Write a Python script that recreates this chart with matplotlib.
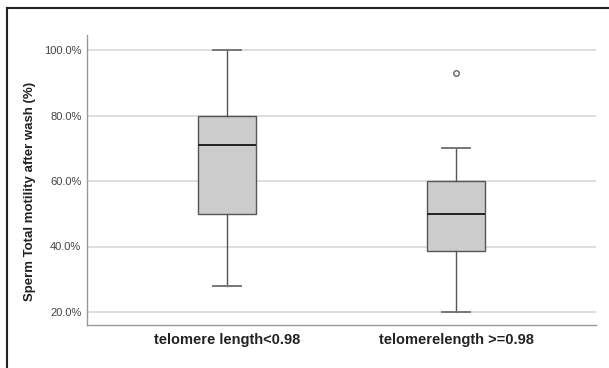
import numpy as np
import matplotlib.pyplot as plt
from matplotlib.lines import Line2D

plt.rcParams['font.family'] = ['Liberation Sans', 'DejaVu Sans']

# group labels and five-number summaries (percent)
groups = ['telomere length<0.98', 'telomerelength >=0.98']
whisker_low = [28.0, 20.0]
q1 = [50.0, 38.6]
median = [71.0, 50.0]
q3 = [80.0, 60.0]
whisker_high = [100.0, 70.0]
outliers = [[], [93.0]]

yticks = [20, 40, 60, 80, 100]

stats = []
for i in range(len(groups)):
    stats.append({
        'med': median[i], 'q1': q1[i], 'q3': q3[i],
        'whislo': whisker_low[i], 'whishi': whisker_high[i],
        'fliers': outliers[i], 'label': groups[i],
    })

fig = plt.figure(figsize=(6.09, 3.68), dpi=100)
ax = fig.add_axes([87 / 609, 1 - 325 / 368, (596 - 87) / 609, (325 - 35) / 368])

# gridlines
for t in yticks:
    ax.axhline(t, color='#d4d4d4', lw=1.1, zorder=0)

edge = '#555555'
ax.bxp(stats, positions=[1, 2], widths=0.25, patch_artist=True,
       boxprops=dict(facecolor='#cccccc', edgecolor=edge, lw=1.0),
       medianprops=dict(color='#222222', lw=1.4),
       whiskerprops=dict(color=edge, lw=1.0),
       capprops=dict(color='#777777', lw=1.4),
       capwidths=0.12,
       flierprops=dict(marker='o', markersize=4, markerfacecolor='white',
                       markeredgecolor='#555555', markeredgewidth=0.9),
       zorder=3)

ax.set_xlim(1 - 140 / 229, 2 + 140 / 229)
ax.set_ylim(20 - 13 / 65.5 * 20, 100 + 15 / 65.5 * 20)
ax.set_yticks(yticks)
ax.set_yticklabels([f'{t:.1f}%' for t in yticks], fontsize=8, color='#444444')
ax.set_xticks([1, 2])
ax.set_xticklabels(groups, fontsize=10.5, fontweight='bold', color='#222222')
ax.tick_params(axis='y', length=0, pad=4)
ax.tick_params(axis='x', length=0, pad=6)
ax.set_ylabel('Sperm Total motility after wash (%)', fontsize=9.5,
              fontweight='bold', color='#222222')
ax.yaxis.set_label_coords(-0.112, 0.459)
ax.yaxis.label.set_verticalalignment('center')

for s in ['top', 'right']:
    ax.spines[s].set_visible(False)
for s in ['left', 'bottom']:
    ax.spines[s].set_color('#999999')
    ax.spines[s].set_linewidth(1.0)

# outer frame (top and left lines only)
fig.add_artist(Line2D([7 / 609, 1], [1 - 8 / 368, 1 - 8 / 368],
                      transform=fig.transFigure, color='#222222', lw=1.5))
fig.add_artist(Line2D([7 / 609, 7 / 609], [0, 1 - 8 / 368],
                      transform=fig.transFigure, color='#222222', lw=1.5))

fig.savefig('out.png', dpi=100)
